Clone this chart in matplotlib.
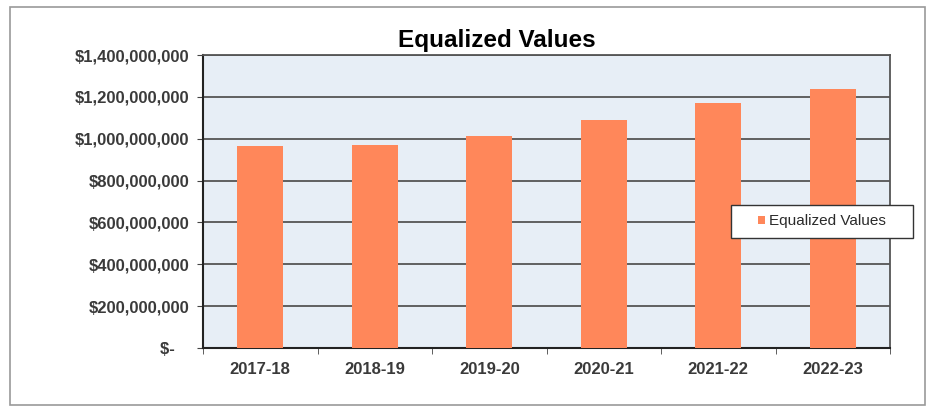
import matplotlib
matplotlib.use("Agg")
import matplotlib.pyplot as plt
from matplotlib.patches import Rectangle
from matplotlib.ticker import FuncFormatter, FixedLocator

plt.rcParams['font.family'] = ['Liberation Sans', 'DejaVu Sans']

years = ['2017-18', '2018-19', '2019-20', '2020-21', '2021-22', '2022-23']
equalized = [963e6, 972e6, 1013e6, 1090e6, 1172e6, 1238e6]

fig = plt.figure(figsize=(9.3, 4.09), dpi=100)
fig.patch.set_facecolor('white')

# outer chart border
fig.add_artist(Rectangle((10 / 930, 1 - 405 / 409), 915 / 930, 398 / 409,
                         transform=fig.transFigure, fill=False,
                         edgecolor='#9a9a9a', linewidth=1.2))

ax = fig.add_axes([203 / 930, 1 - 348 / 409, 687 / 930, 293 / 409])
ax.set_facecolor('#e7eef6')

x = range(len(years))
bars = ax.bar(x, equalized, width=0.4, color='#ff875a', zorder=3,
              label='Equalized Values')

ax.set_xlim(-0.5, len(years) - 0.5)
ax.set_ylim(0, 1.4e9)
ax.set_yticks([i * 200e6 for i in range(8)])


def money(v, pos):
    if v == 0:
        return '$-   '
    return '${:,.0f}'.format(v)


ax.yaxis.set_major_formatter(FuncFormatter(money))
ax.grid(axis='y', color='#555555', linewidth=1.3, zorder=1)

ax.set_xticks(list(x))
ax.set_xticklabels(years)
ax.tick_params(axis='x', length=0, pad=10, labelsize=12)
ax.xaxis.set_minor_locator(FixedLocator([i - 0.5 for i in range(len(years) + 1)]))
ax.tick_params(axis='x', which='minor', length=4, color='#444444')
ax.tick_params(axis='y', length=4, pad=6, labelsize=12, color='#444444')
for lab in ax.get_xticklabels() + ax.get_yticklabels():
    lab.set_color('#3a3a3a')
    lab.set_fontweight('bold')

for side in ['left', 'bottom']:
    ax.spines[side].set_color('#222222')
    ax.spines[side].set_linewidth(1.5)
for side in ['top', 'right']:
    ax.spines[side].set_color('#555555')
    ax.spines[side].set_linewidth(1.3)

fig.text(497 / 930, 1 - 40 / 409, 'Equalized Values', ha='center', va='center',
         fontsize=17.5, fontweight='bold')

# legend box drawn separately for the wide padding
fig.add_artist(Rectangle((731 / 930, 1 - 238 / 409), 182 / 930, 33 / 409,
                         transform=fig.transFigure, facecolor='white',
                         edgecolor='#333333', linewidth=1.0))
leg = fig.legend(handles=[bars], labels=['Equalized Values'],
                 loc='center left', bbox_to_anchor=(758 / 930, 1 - 221.5 / 409),
                 frameon=False, handlelength=0.45, handleheight=0.45,
                 handletextpad=0.3, fontsize=11, borderpad=0, borderaxespad=0)
leg.set_zorder(5)
for t in leg.get_texts():
    t.set_color('#2a2a2a')

fig.savefig('out.png', dpi=100)
